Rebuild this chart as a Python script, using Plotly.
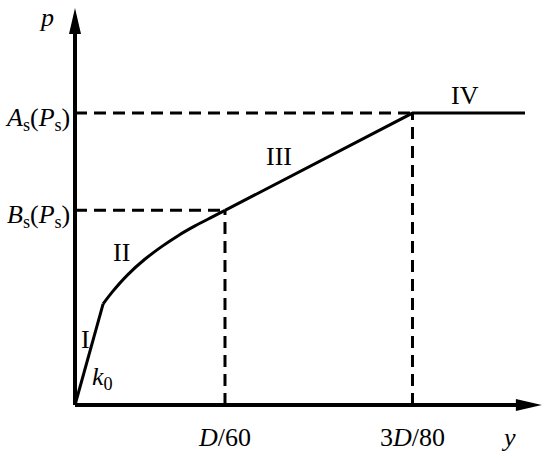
import plotly.graph_objects as go

# x in units of D/240 (so D/60 = 4, 3D/80 = 9), p in units where B_s = 2, A_s = 3
stage1_x = [0, 0.75]
stage1_y = [0, 1.04]
stage2_x = [0.75, 0.99, 1.41, 1.87, 2.32, 2.75, 3.2, 3.65, 4.0]
stage2_y = [1.04, 1.16, 1.34, 1.50, 1.63, 1.74, 1.84, 1.93, 2.0]
stage34_x = [4.0, 9.0, 12.0]
stage34_y = [2.0, 3.0, 3.0]

x_ticks = [4.0, 9.0]
x_tick_text = ["<i>D</i>/60", "3<i>D</i>/80"]
y_ticks = [2.0, 3.0]
y_tick_text = ["<i>B</i><sub>s</sub>(<i>P</i><sub>s</sub>)",
               "<i>A</i><sub>s</sub>(<i>P</i><sub>s</sub>)"]

stage_labels = ["I", "II", "III", "IV"]
stage_label_x = [0.27, 1.25, 5.45, 10.4]
stage_label_y = [0.67, 1.57, 2.55, 3.18]

X_END = 12.45
Y_END = 4.08

FONT = "Liberation Serif"
BLACK = "#000000"

fig = go.Figure()
line = dict(color=BLACK, width=3)
fig.add_trace(go.Scatter(x=stage1_x, y=stage1_y, mode="lines", line=line))
fig.add_trace(go.Scatter(x=stage2_x, y=stage2_y, mode="lines",
                         line=dict(color=BLACK, width=3, shape="spline", smoothing=0.6)))
fig.add_trace(go.Scatter(x=stage34_x, y=stage34_y, mode="lines", line=line))

shapes = []
# dashed guides
for xv, yv in zip(x_ticks, y_ticks):
    dash = dict(color=BLACK, width=3, dash="12px,7px")
    shapes.append(dict(type="line", x0=0, x1=xv, y0=yv, y1=yv, line=dash, layer="below"))
    shapes.append(dict(type="line", x0=xv, x1=xv, y0=0, y1=yv, line=dash, layer="below"))

# axes
shapes.append(dict(type="line", x0=0, x1=X_END - 0.3, y0=0, y1=0,
                   line=dict(color=BLACK, width=4)))
shapes.append(dict(type="line", x0=0, x1=0, y0=0, y1=Y_END - 0.15,
                   line=dict(color=BLACK, width=4)))
# arrowheads
shapes.append(dict(type="path", xsizemode="pixel", ysizemode="pixel",
                   xanchor=0, yanchor=Y_END, path="M0,0 L-6,-26 L6,-26 Z",
                   fillcolor=BLACK, line=dict(width=0)))
shapes.append(dict(type="path", xsizemode="pixel", ysizemode="pixel",
                   xanchor=X_END, yanchor=0, path="M0,0 L-26,6 L-26,-6 Z",
                   fillcolor=BLACK, line=dict(width=0)))

annotations = []
for xv, t in zip(x_ticks, x_tick_text):
    annotations.append(dict(x=xv, y=-0.33, text=t, showarrow=False,
                            xanchor="center", yanchor="middle"))
for yv, t in zip(y_ticks, y_tick_text):
    annotations.append(dict(x=-0.08, y=yv - 0.06, text=t, showarrow=False,
                            xanchor="right", yanchor="middle"))
for t, xv, yv in zip(stage_labels, stage_label_x, stage_label_y):
    annotations.append(dict(x=xv, y=yv, text=t, showarrow=False,
                            xanchor="center", yanchor="middle"))
annotations.append(dict(x=0.72, y=0.28, text="<i>k</i><sub>0</sub>", showarrow=False))
annotations.append(dict(x=-0.75, y=3.98, text="<i>p</i>", showarrow=False))
annotations.append(dict(x=11.55, y=-0.33, text="<i>y</i>", showarrow=False))

fig.update_layout(
    width=550, height=455,
    margin=dict(l=0, r=0, t=0, b=0),
    paper_bgcolor="white", plot_bgcolor="white",
    showlegend=False,
    font=dict(family=FONT, size=26, color=BLACK),
    xaxis=dict(range=[-2.0, 12.667], visible=False, fixedrange=True),
    yaxis=dict(range=[-0.514, 4.162], visible=False, fixedrange=True),
    shapes=shapes,
    annotations=annotations,
)

fig.write_html("out.html", config={"displayModeBar": False},
               post_script="document.body.style.margin='0';")
